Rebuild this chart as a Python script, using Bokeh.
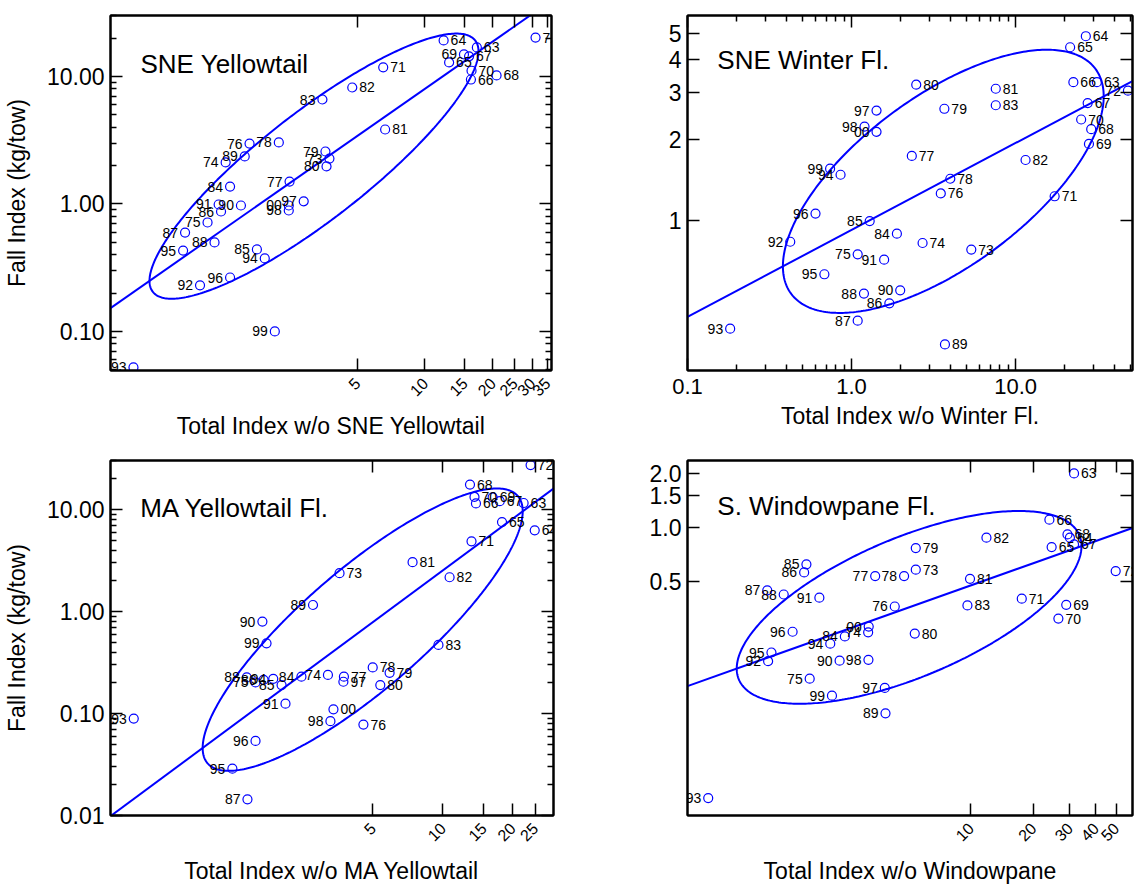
import math
import numpy as np
from bokeh.plotting import figure
from bokeh.models import (ColumnDataSource, FixedTicker, LogAxis, PrintfTickFormatter,
                          CustomJSTickFormatter, Label)
from bokeh.layouts import column, row
from bokeh.embed import file_html
from bokeh.resources import INLINE

# ---------------- data ----------------
years = ["63", "64", "65", "66", "67", "68", "69", "70", "71", "72",
         "73", "74", "75", "76", "77", "78", "79", "80", "81", "82",
         "83", "84", "85", "86", "87", "88", "89", "90", "91", "92",
         "93", "94", "95", "96", "97", "98", "99", "00"]

sne_yt_total = [17.0, 12.1, 12.8, 16.0, 15.7, 20.8, 14.9, 16.1, 6.52, 31.0,
                3.76, 1.30, 1.08, 1.66, 2.50, 2.24, 3.61, 3.65, 6.65, 4.75,
                3.50, 1.36, 1.79, 1.24, 0.858, 1.16, 1.58, 1.52, 1.21, 1.00,
                0.506, 1.94, 0.841, 1.36, 2.89, 2.48, 2.15, 2.48]
sne_yt_fall = [16.9, 19.2, 12.9, 9.47, 14.4, 10.2, 14.9, 11.1, 11.8, 20.2,
               2.27, 2.12, 0.716, 2.98, 1.50, 3.04, 2.58, 1.97, 3.84, 8.20,
               6.60, 1.37, 0.440, 0.873, 0.597, 0.499, 2.36, 0.973, 0.991, 0.230,
               0.0522, 0.374, 0.431, 0.265, 1.05, 0.889, 0.100, 0.973]

sne_wf_total = [31.3, 26.8, 21.5, 22.5, 27.5, 28.9, 28.0, 25.1, 17.3, 48.4,
                5.37, 2.71, 1.09, 3.50, 2.33, 4.00, 3.68, 2.48, 7.57, 11.5,
                7.57, 1.89, 1.29, 1.70, 1.09, 1.19, 3.71, 1.98, 1.58, 0.423,
                0.182, 0.857, 0.683, 0.603, 1.42, 1.20, 0.740, 1.42]
sne_wf_fall = [3.28, 4.87, 4.43, 3.28, 2.74, 2.19, 1.93, 2.38, 1.23, 3.05,
               0.778, 0.823, 0.747, 1.26, 1.74, 1.43, 2.61, 3.21, 3.10, 1.68,
               2.69, 0.892, 0.994, 0.490, 0.422, 0.533, 0.344, 0.548, 0.713, 0.832,
               0.394, 1.48, 0.629, 1.06, 2.57, 2.24, 1.56, 2.14]

ma_yt_total = [22.3, 24.9, 18.0, 13.9, 17.6, 13.1, 16.4, 13.7, 13.3, 23.9,
               3.59, 3.20, 1.56, 4.55, 3.75, 4.99, 5.90, 5.38, 7.41, 10.7,
               9.58, 2.46, 2.02, 1.69, 1.44, 1.43, 2.76, 1.67, 2.10, float("nan"),
               0.466, 1.86, 1.24, 1.56, 3.73, 3.28, 1.74, 3.38]
ma_yt_fall = [11.6, 6.26, 7.55, 11.5, 12.1, 17.6, 13.2, 13.3, 4.88, 27.3,
              2.38, 0.239, 0.202, 0.078, 0.230, 0.283, 0.251, 0.190, 3.05, 2.17,
              0.471, 0.230, 0.190, 0.214, 0.0144, 0.226, 1.16, 0.797, 0.125, float("nan"),
              0.0893, 0.219, 0.0288, 0.0539, 0.205, 0.0842, 0.488, 0.110]

s_wp_total = [31.4, 30.0, 24.5, 23.9, 31.4, 29.2, 28.8, 26.4, 17.6, 49.8,
              5.44, 3.21, 1.68, 4.31, 3.47, 4.78, 5.44, 5.38, 9.92, 11.9,
              9.64, 2.48, 1.62, 1.58, 1.05, 1.26, 3.89, 2.34, 1.87, 1.06,
              0.546, 2.11, 1.10, 1.39, 3.86, 3.22, 2.15, 3.23]
s_wp_fall = [1.99, 0.873, 0.774, 1.10, 0.801, 0.910, 0.369, 0.309, 0.399, 0.569,
             0.579, 0.259, 0.143, 0.361, 0.533, 0.533, 0.764, 0.255, 0.515, 0.873,
             0.366, 0.246, 0.620, 0.559, 0.444, 0.421, 0.0916, 0.180, 0.404, 0.179,
             0.0309, 0.224, 0.200, 0.261, 0.127, 0.182, 0.115, 0.279]

titles = ["SNE Yellowtail", "SNE Winter Fl.", "MA Yellowtail Fl.", "S. Windowpane Fl."]
x_labels = ["Total Index w/o SNE Yellowtail", "Total Index w/o Winter Fl.",
            "Total Index w/o MA Yellowtail", "Total Index w/o Windowpane"]
y_label = "Fall Index (kg/tow)"

# axis ranges and tick values
ranges = [((0.40, 36.5), (0.0494, 30.1)),
          ((0.1, 51.6), (0.275, 5.82)),
          ((0.37, 30.0), (0.01, 30.3)),
          ((0.434, 60.0), (0.0247, 2.35))]
x_ticks = [[5, 10, 15, 20, 25, 30, 35], [0.1, 1, 10], [5, 10, 15, 20, 25], [10, 20, 30, 40, 50]]
y_ticks = [[0.1, 1, 10], [1, 2, 3, 4, 5], [0.01, 0.1, 1, 10], [0.5, 1.0, 1.5, 2.0]]

# ---------------- style ----------------
FONT = "Liberation Sans"
BLUE = "#0000ff"
K_ELLIPSE = 1.55

# years whose label sits on the left of the marker
left_labels = [
    set(years) - {"63", "64", "65", "66", "67", "68", "70", "71", "72", "81", "82"},
    {"97", "98", "00", "99", "94", "96", "85", "84", "92", "75", "91", "95", "88",
     "90", "86", "87", "93", "72"},
    {"88", "75", "86", "94", "85", "84", "74", "89", "90", "99", "91", "98", "96",
     "95", "87", "93"},
    {"85", "86", "87", "88", "91", "77", "78", "76", "96", "00", "74", "84", "94",
     "90", "98", "95", "92", "75", "97", "99", "89", "93"},
]


def log_minors(lo, hi):
    out = []
    for e in range(int(math.floor(math.log10(lo))) - 1, int(math.ceil(math.log10(hi))) + 1):
        for m in range(2, 10):
            v = m * 10.0 ** e
            if lo <= v <= hi:
                out.append(v)
    return out


def style_axis(ax, label_size=None):
    ax.axis_line_width = 2
    ax.axis_line_color = "black"
    ax.major_tick_in = 12
    ax.major_tick_out = 0
    ax.minor_tick_in = 6
    ax.minor_tick_out = 0
    ax.major_tick_line_width = 1.5
    ax.minor_tick_line_width = 1.5
    ax.major_tick_line_color = "black"
    ax.minor_tick_line_color = "black"
    ax.major_label_text_font = FONT
    ax.major_label_text_color = "black"
    if label_size:
        ax.major_label_text_font_size = label_size
    ax.axis_label_text_font = FONT
    ax.axis_label_text_font_style = "normal"
    ax.axis_label_text_font_size = "23px"
    ax.axis_label_text_color = "black"


def frac_pos(rng, f):
    lo, hi = rng
    return 10 ** (math.log10(lo) + f * (math.log10(hi) - math.log10(lo)))


def make_panel(i, xv, yv, width, height, borders, x_minor, y_minor, x_fmt, y_fmt,
               x_rot, x_size, show_ylabel, title_frac):
    xr, yr = ranges[i]
    p = figure(width=width, height=height, x_axis_type="log", y_axis_type="log",
               x_range=xr, y_range=yr, output_backend="svg", toolbar_location=None,
               min_border_left=borders[0], min_border_right=borders[1],
               min_border_top=borders[2], min_border_bottom=borders[3])
    p.grid.visible = False
    p.outline_line_color = "black"
    p.outline_line_width = 2
    p.background_fill_color = "white"
    p.border_fill_color = "white"

    xa = p.xaxis[0]
    ya = p.yaxis[0]
    xa.ticker = FixedTicker(ticks=x_ticks[i], minor_ticks=x_minor)
    ya.ticker = FixedTicker(ticks=y_ticks[i], minor_ticks=y_minor)
    xa.formatter = PrintfTickFormatter(format=x_fmt)
    ya.formatter = PrintfTickFormatter(format=y_fmt)
    style_axis(xa, x_size)
    style_axis(ya, "23px")
    xa.axis_label = x_labels[i]
    if x_rot:
        xa.major_label_orientation = math.pi / 4
        xa.major_label_standoff = 10
        xa.axis_label_standoff = 8
    else:
        xa.major_label_standoff = 8
        xa.axis_label_standoff = 6
    ya.major_label_standoff = 6
    if show_ylabel:
        ya.axis_label = y_label
        ya.axis_label_standoff = 14

    # mirrored tick axes on top and right
    for loc, ticks, minors in (("above", x_ticks[i], x_minor), ("right", y_ticks[i], y_minor)):
        ax = LogAxis(ticker=FixedTicker(ticks=ticks, minor_ticks=minors),
                     formatter=CustomJSTickFormatter(code="return ''"))
        style_axis(ax, "0px")
        ax.major_label_text_color = None
        ax.major_label_standoff = 0
        p.add_layout(ax, loc)

    x = np.array(xv, dtype=float)
    y = np.array(yv, dtype=float)
    ok = np.isfinite(x) & np.isfinite(y)
    labs = np.array(years)[ok]
    x, y = x[ok], y[ok]

    # regression line (log-log OLS) and ellipse from data covariance
    lx, ly = np.log10(x), np.log10(y)
    mx, my = lx.mean(), ly.mean()
    cov = np.cov(lx, ly)
    b = cov[0, 1] / cov[0, 0]
    a = my - b * mx
    line_x = np.array(xr)
    line_y = 10 ** (a + b * np.log10(line_x))
    p.line(line_x, line_y, line_color=BLUE, line_width=2)

    t = np.linspace(0, 2 * np.pi, 361)
    L = np.linalg.cholesky(cov)
    pts = L @ np.vstack([np.cos(t), np.sin(t)]) * K_ELLIPSE
    p.line(10 ** (pts[0] + mx), 10 ** (pts[1] + my), line_color=BLUE, line_width=2)

    src = ColumnDataSource(dict(x=x, y=y, lab=labs))
    p.scatter(x="x", y="y", source=src, marker="circle", size=9,
              fill_color=None, line_color=BLUE, line_width=1.2)

    # year labels, one annotation per point
    for xi, yi, lab in zip(x, y, labs):
        left = lab in left_labels[i]
        p.add_layout(Label(x=float(xi), y=float(yi), text=str(lab),
                           x_offset=-7 if left else 7,
                           text_align="right" if left else "left",
                           text_baseline="middle", text_font=FONT,
                           text_font_size="14px", text_color="black"))

    p.add_layout(Label(x=frac_pos(xr, title_frac[0]), y=frac_pos(yr, title_frac[1]),
                       text=titles[i], text_font=FONT, text_font_size="26px",
                       text_baseline="middle", text_align="left", text_color="black"))
    return p


p1 = make_panel(0, sne_yt_total, sne_yt_fall, 580, 444, (108, 29, 15, 74),
                [], log_minors(*ranges[0][1]), "%d", "%.2f", True, "16px", True, (0.068, 0.862))
p2 = make_panel(1, sne_wf_total, sne_wf_fall, 563, 444, (107, 11, 15, 74),
                log_minors(*ranges[1][0]), [], "%.1f", "%d", False, "22px", False, (0.067, 0.876))
p3 = make_panel(2, ma_yt_total, ma_yt_fall, 580, 444, (108, 27, 15, 73),
                [], log_minors(*ranges[2][1]), "%d", "%.2f", True, "16px", True, (0.067, 0.865))
p4 = make_panel(3, s_wp_total, s_wp_fall, 563, 444, (107, 11, 16, 73),
                [], [], "%d", "%.1f", True, "16px", False, (0.067, 0.873))

layout = column(row(p1, p2), row(p3, p4))
open("out.html", "w").write(file_html(layout, INLINE))
